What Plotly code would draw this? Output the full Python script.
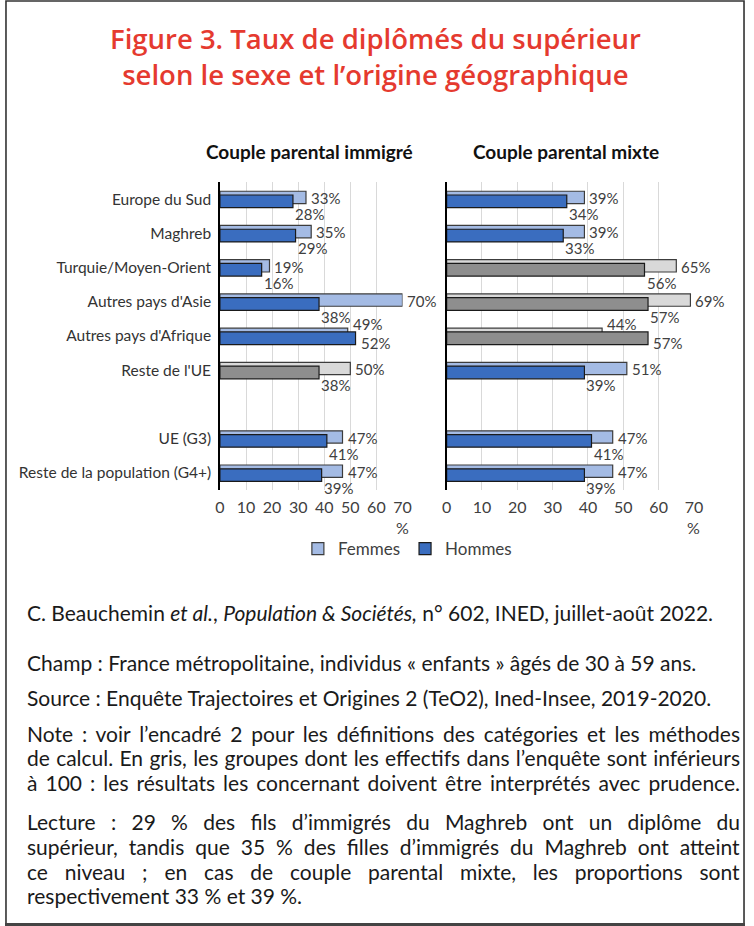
import json
import plotly.graph_objects as go

# ---------------- data ----------------
categories = ["Europe du Sud", "Maghreb", "Turquie/Moyen-Orient", "Autres pays d'Asie",
              "Autres pays d'Afrique", "Reste de l'UE", " ", "UE (G3)",
              "Reste de la population (G4+)"]
imm_femmes = [33, 35, 19, 70, 49, 50, None, 47, 47]
imm_hommes = [28, 29, 16, 38, 52, 38, None, 41, 39]
mix_femmes = [39, 39, 65, 69, 44, 51, None, 47, 47]
mix_hommes = [34, 33, 56, 57, 57, 39, None, 41, 39]
# groups with fewer than 100 respondents (shown in grey)
imm_small = [False, False, False, False, False, True, False, False, False]
mix_small = [False, False, True, True, True, False, False, False, False]
x_ticks = [0, 10, 20, 30, 40, 50, 60, 70]
panel_titles = ["Couple parental immigré", "Couple parental mixte"]
series_names = ["Femmes", "Hommes"]

title_lines = ["Figure 3. Taux de diplômés du supérieur",
               "selon le sexe et l’origine géographique"]
# (y in px, text, justified)
text_lines = [
    (612, "C. Beauchemin <i>et al.</i>, <i>Population & Sociétés,</i> n° 602, INED, juillet-août 2022.", False),
    (662, "Champ : France métropolitaine, individus « enfants » âgés de 30 à 59 ans.", False),
    (697, "Source : Enquête Trajectoires et Origines 2 (TeO2), Ined-Insee, 2019-2020.", False),
    (733, "Note : voir l’encadré 2 pour les définitions des catégories et les méthodes", True),
    (757, "de calcul. En gris, les groupes dont les effectifs dans l’enquête sont inférieurs", True),
    (782, "à 100 : les résultats les concernant doivent être interprétés avec prudence.", True),
    (821, "Lecture : 29 % des fils d’immigrés du Maghreb ont un diplôme du", True),
    (846, "supérieur, tandis que 35 % des filles d’immigrés du Maghreb ont atteint", True),
    (871, "ce niveau ; en cas de couple parental mixte, les proportions sont", True),
    (895, "respectivement 33 % et 39 %.", False),
]

# ---------------- style ----------------
W, H = 754, 926
def px(x): return x / W
def py(y): return 1 - y / H

F_BLUE, H_BLUE = "#a4bbe4", "#3a6dbf"
F_GRAY, H_GRAY = "#d9d9d9", "#8e8e8e"
FONT = "Lato"
LBL_COLOR = "#404040"

fig = go.Figure()

panels = [
    ("x", "y", imm_femmes, imm_hommes, imm_small, True),
    ("x2", "y2", mix_femmes, mix_hommes, mix_small, False),
]
annotations = []
lab_font = dict(family=FONT, size=15, color=LBL_COLOR)
for xa, ya, fem, hom, small, show in panels:
    fcol = [F_GRAY if s else F_BLUE for s in small]
    hcol = [H_GRAY if s else H_BLUE for s in small]
    fig.add_trace(go.Bar(
        y=categories, x=fem, orientation="h", name=series_names[0],
        marker=dict(color=fcol, line=dict(color="#3c3c3c", width=1.2)),
        offset=-0.23, width=0.36, xaxis=xa, yaxis=ya, showlegend=show,
        hoverinfo="skip"))
    fig.add_trace(go.Bar(
        y=categories, x=hom, orientation="h", name=series_names[1],
        marker=dict(color=hcol, line=dict(color="#1a1a1a", width=1.2)),
        offset=-0.12, width=0.37, xaxis=xa, yaxis=ya, showlegend=show,
        hoverinfo="skip"))
    for c, f, h in zip(categories, fem, hom):
        if f is None:
            continue
        if f >= h:
            annotations.append(dict(x=f, y=c, xref=xa, yref=ya, text=f"{f}%", font=lab_font,
                                    xanchor="left", yanchor="middle", xshift=3, yshift=1,
                                    showarrow=False))
            annotations.append(dict(x=h, y=c, xref=xa, yref=ya, text=f"{h}%", font=lab_font,
                                    xanchor="left", yanchor="middle", xshift=0, yshift=-15,
                                    showarrow=False))
        else:
            annotations.append(dict(x=f, y=c, xref=xa, yref=ya, text=f"{f}%", font=lab_font,
                                    xanchor="left", yanchor="middle", xshift=3, yshift=12,
                                    showarrow=False))
            annotations.append(dict(x=h, y=c, xref=xa, yref=ya, text=f"{h}%", font=lab_font,
                                    xanchor="left", yanchor="middle", xshift=3, yshift=-7,
                                    showarrow=False))
    annotations.append(dict(x=70, y=py(527), xref=xa, yref="paper", text="%",
                            xanchor="center", yanchor="middle", showarrow=False,
                            font=dict(family=FONT, size=16, color=LBL_COLOR)))

# panel titles
for xc, t in zip([310, 572], panel_titles):
    annotations.append(dict(x=px(xc), y=py(152), xref="paper", yref="paper", text=f"<b>{t}</b>",
                            xanchor="center", yanchor="middle", showarrow=False,
                            font=dict(family=FONT, size=19, color="#111111")))
# main title (two lines in one text)
annotations.append(dict(x=px(377), y=py(57), xref="paper", yref="paper",
                        text="<br>".join(title_lines),
                        xanchor="center", yanchor="middle", showarrow=False,
                        font=dict(family="Open Sans", size=27.5, color="#e53a2f", weight=600)))
# source / notes
for yc, t, _ in text_lines:
    annotations.append(dict(x=px(20), y=py(yc), xref="paper", yref="paper", text=t,
                            xanchor="left", yanchor="middle", showarrow=False,
                            font=dict(family=FONT, size=21, color="#1a1a1a")))

ydom = [py(490), py(182)]
common_x = dict(range=[0, 70], tickvals=x_ticks, showgrid=True, gridcolor="#d9d9d9",
                gridwidth=1, zeroline=False, showline=False, ticks="",
                tickfont=dict(family=FONT, size=16, color=LBL_COLOR), ticklabelstandoff=6,
                fixedrange=True)
common_y = dict(type="category", categoryorder="array", categoryarray=categories,
                range=[len(categories) - 0.5, -0.5], showline=True, linecolor="#000000",
                linewidth=1.5, showgrid=False, zeroline=False, ticks="", fixedrange=True)

fig.update_layout(
    width=W, height=H, margin=dict(l=0, r=0, t=0, b=0),
    paper_bgcolor="white", plot_bgcolor="white",
    barmode="overlay",
    font=dict(family=FONT, size=14, color=LBL_COLOR),
    xaxis=dict(domain=[px(219), px(405)], anchor="y", **common_x),
    xaxis2=dict(domain=[px(450), px(702)], anchor="y2", **common_x),
    yaxis=dict(domain=ydom, anchor="x", showticklabels=True,
               tickfont=dict(family=FONT, size=15.5, color="#333333"), ticklabelstandoff=4,
               **common_y),
    yaxis2=dict(domain=ydom, anchor="x2", showticklabels=False, **common_y),
    legend=dict(orientation="h", x=px(410), y=py(549), xanchor="center", yanchor="middle",
                font=dict(family=FONT, size=17, color=LBL_COLOR), traceorder="normal",
                itemwidth=30),
    annotations=annotations,
    shapes=[
        dict(type="rect", xref="paper", yref="paper", x0=px(1), x1=px(753), y0=py(925), y1=py(1),
             line=dict(color="#333333", width=1.6)),
        dict(type="line", xref="paper", yref="paper", x0=0, x1=1, y0=py(924.5), y1=py(924.5),
             line=dict(color="#444444", width=3)),
    ],
)

# page margin reset and justification of the paragraph lines (left 20px, right 733px)
justified = [t for _, t, j in text_lines if j]
post = """
document.body.style.margin = '0';
document.body.style.overflow = 'hidden';
var JUST = %s;
var gd = document.getElementById('{plot_id}');
var texts = gd.querySelectorAll('text.annotation-text');
texts.forEach(function(el) {
  var u = el.getAttribute('data-unformatted');
  if (JUST.indexOf(u) < 0) return;
  var bb = el.getBBox();
  var n = (u.match(/ /g) || []).length;
  var target = %d;
  if (n > 0 && bb.width < target) {
    var left = bb.x;
    el.style.wordSpacing = ((target - bb.width) / n) + 'px';
    var bb2 = el.getBBox();
    var x0 = parseFloat(el.getAttribute('x')) || 0;
    el.setAttribute('x', x0 + (left - bb2.x));
  }
});
""" % (json.dumps(justified), 733 - 20)

fig.write_html("out.html", post_script=post, config={"displayModeBar": False})
